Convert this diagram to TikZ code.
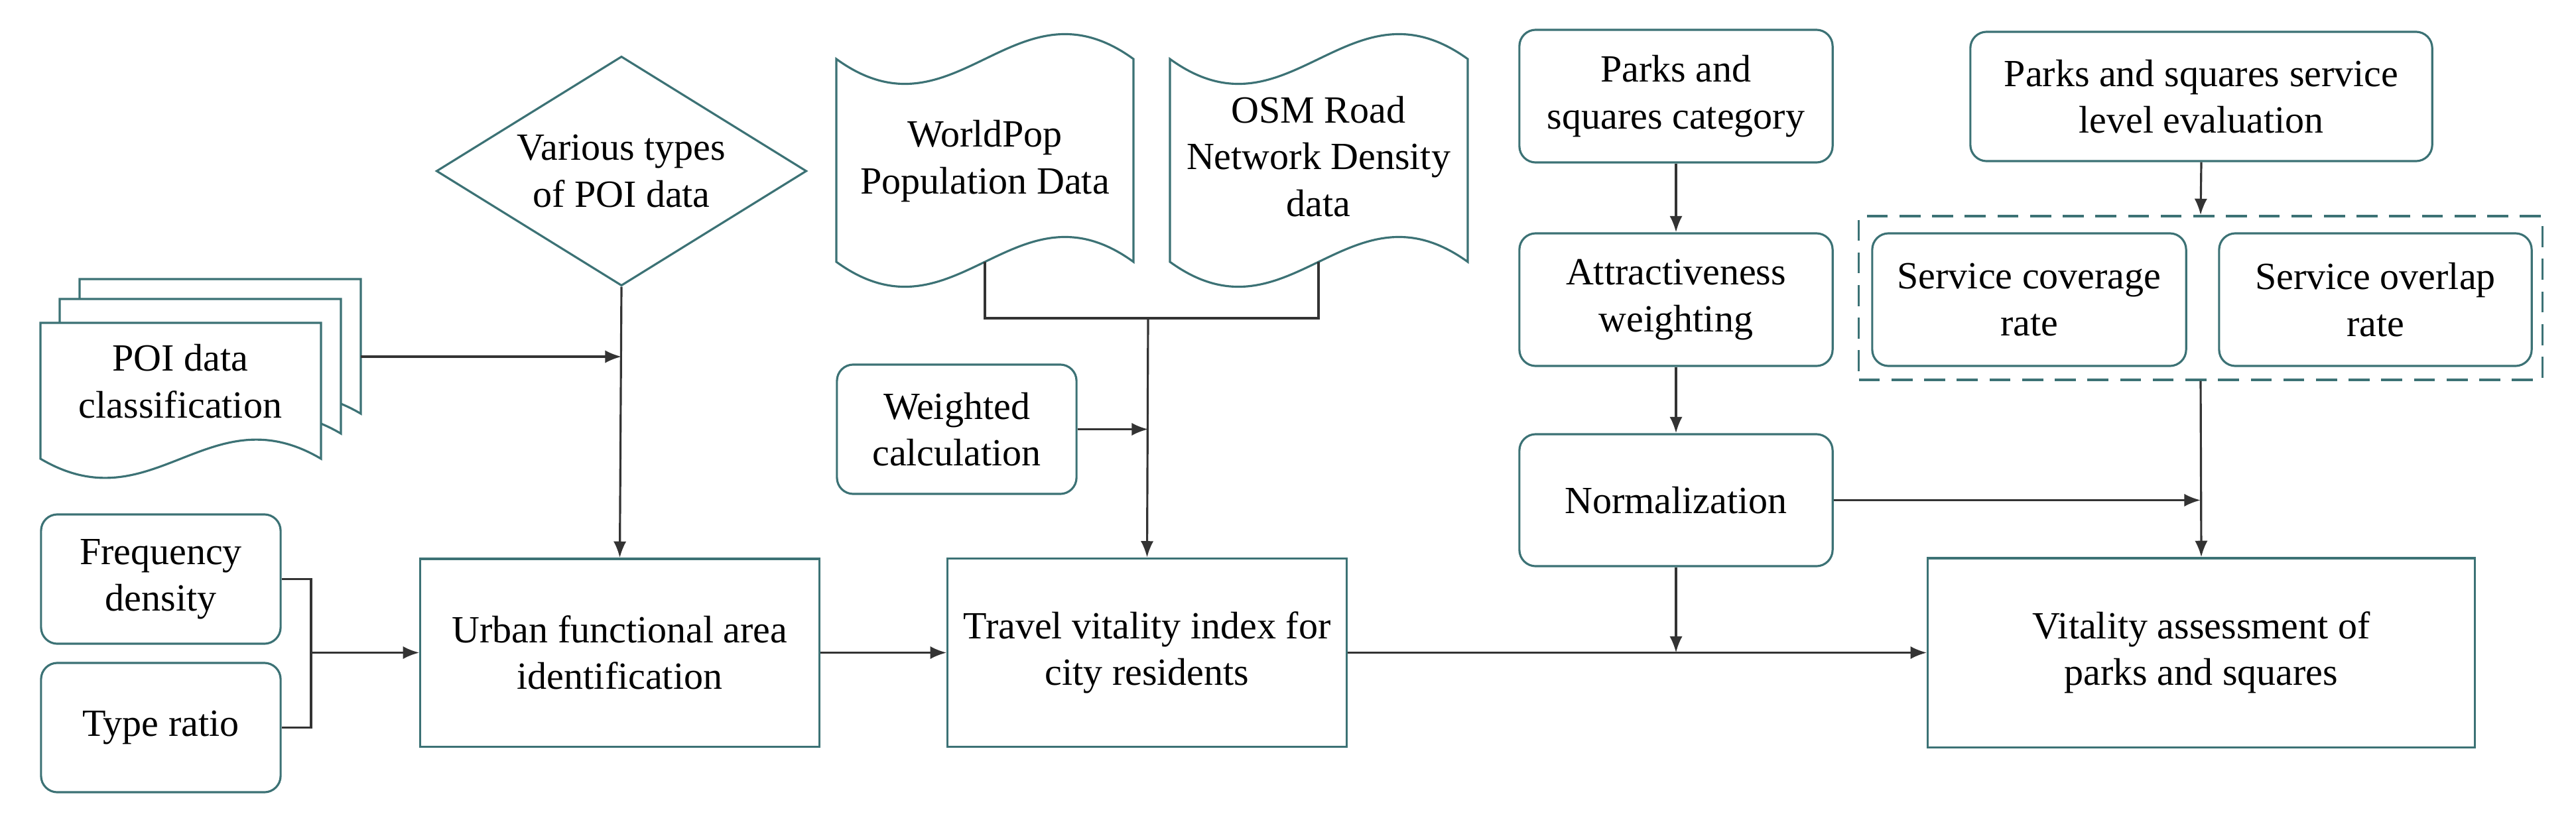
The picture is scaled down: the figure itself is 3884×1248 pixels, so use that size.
\documentclass[tikz,border=0pt]{standalone}
\usepackage{fontspec}
\setmainfont{Liberation Serif}
\usetikzlibrary{shapes.geometric,arrows.meta}
\definecolor{tealb}{HTML}{3C7275}
\definecolor{lin}{HTML}{333333}
\begin{document}
\begin{tikzpicture}[x=0.01cm,y=-0.01cm,
  txt/.style={font=\fontsize{16.5}{20}\selectfont,align=center,inner sep=0pt},
  rbox/.style={txt,draw=tealb,line width=0.9pt,rounded corners=7pt},
  sbox/.style={txt,draw=tealb,line width=0.9pt},
  shp/.style={draw=tealb,line width=0.9pt,fill=white},
  conn/.style={draw=lin,line width=0.9pt},
  arr/.style={conn,-{Latex[length=7pt,width=5.5pt]}}]
\useasboundingbox (0,0) rectangle (3884,1248);
% left documents
\draw[shp] (120,421) -- (544,421) -- (544,624) .. controls (374,624-100) and (289,624+100) .. (120,624) -- cycle;
\draw[shp] (90,451) -- (514,451) -- (514,654) .. controls (344,654-100) and (259,654+100) .. (90,654) -- cycle;
\draw[shp] (61,487) -- (484,487) -- (484,692) .. controls (315,692-100) and (230,692+100) .. (61,692) -- cycle;
\node[txt] (poi) at (272,575) {POI data\\classification};
\coordinate (poiout) at (544,538);
% diamond
\node[txt,diamond,draw=tealb,line width=0.9pt,minimum width=5.58cm,minimum height=3.46cm,shape aspect=1.61] (poitypes) at (937,258) {Various types\\of POI data};
\coordinate (poijoin) at (937,538);
% top docs
\draw[shp] (1261,89) .. controls (1440,89+130) and (1530,89-130) .. (1709,89) -- (1709,395) .. controls (1530,395-130) and (1440,395+130) .. (1261,395) -- cycle;
\draw[shp] (1764,89) .. controls (1943,89+130) and (2033,89-130) .. (2213,89) -- (2213,395) .. controls (2033,395-130) and (1943,395+130) .. (1764,395) -- cycle;
\node[txt] (wpop) at (1485,243) {WorldPop\\Population Data};
\node[txt] (osm) at (1988,236) {OSM Road\\Network Density\\data};
\coordinate (wpopb) at (1485,395);
\coordinate (osmb) at (1988,395);
\coordinate (dj) at (1731,480);
\coordinate (wj) at (1731,647.5);
% boxes
\node[rbox,minimum width=3.61cm,minimum height=1.95cm] (freq) at (242.5,873.5) {Frequency\\density};
\node[rbox,minimum width=3.61cm,minimum height=1.95cm] (type) at (242.5,1097.5) {Type ratio};
\coordinate (fj) at (469,984.5);
\node[sbox,minimum width=6.01cm,minimum height=2.83cm] (urban) at (934.5,984.5) {Urban functional area\\identification};
\node[sbox,minimum width=6.01cm,minimum height=2.84cm] (travel) at (1729.5,984.5) {Travel vitality index for\\city residents};
\node[rbox,minimum width=3.61cm,minimum height=1.95cm] (weighted) at (1442.5,647.5) {Weighted\\calculation};
\node[rbox,minimum width=4.72cm,minimum height=2.0cm] (cat) at (2527,145) {Parks and\\squares category};
\node[rbox,minimum width=4.72cm,minimum height=2.0cm] (attr) at (2527,452) {Attractiveness\\weighting};
\node[rbox,minimum width=4.72cm,minimum height=1.99cm] (norm) at (2527,754.5) {Normalization};
\coordinate (nj) at (2527,984.5);
\node[rbox,minimum width=6.96cm,minimum height=1.95cm] (eval) at (3319,145.5) {Parks and squares service\\level evaluation};
\node[draw=tealb,line width=0.9pt,dash pattern=on 9pt off 5pt,minimum width=10.3cm,minimum height=2.47cm,inner sep=0pt] (dash) at (3318,449.5) {};
\node[rbox,minimum width=4.73cm,minimum height=2.0cm] (cov) at (3059.5,452) {Service coverage\\rate};
\node[rbox,minimum width=4.71cm,minimum height=2.0cm] (ovl) at (3581.5,452) {Service overlap\\rate};
\node[sbox,minimum width=8.24cm,minimum height=2.85cm] (vit) at (3319,984.5) {Vitality assessment of\\parks and squares};
\coordinate (vj) at (3318,754.5);
% connectors
\draw[arr] (poiout) -- (poijoin);
\draw[arr] (poitypes.south) -- (urban.north);
\draw[conn] (freq.east) -| (fj) |- (type.east);
\draw[arr] (fj) -- (urban.west);
\draw[arr] (urban.east) -- (travel.west);
\draw[conn] (wpopb) |- (dj) -| (osmb);
\draw[arr] (dj) -- (travel.north);
\draw[arr] (weighted.east) -- (wj);
\draw[arr] (travel.east) -- (vit.west);
\draw[arr] (cat.south) -- (attr.north);
\draw[arr] (attr.south) -- (norm.north);
\draw[arr] (norm.south) -- (nj);
\draw[arr] (norm.east) -- (vj);
\draw[arr] (eval.south) -- (dash.north);
\draw[arr] (dash.south) -- (vit.north);
\end{tikzpicture}
\end{document}
